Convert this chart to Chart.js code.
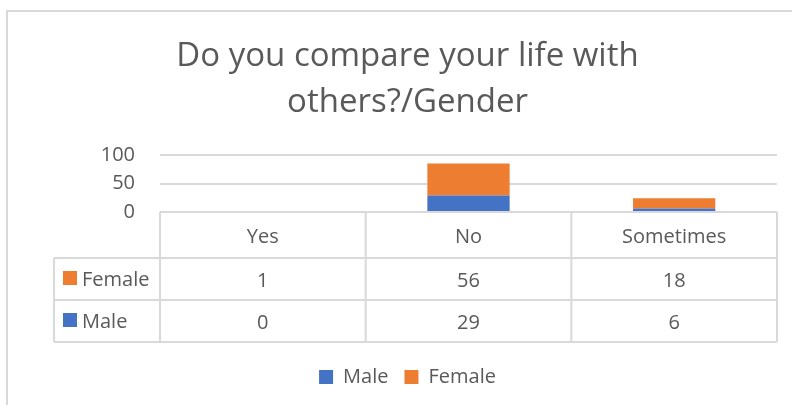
<!DOCTYPE html>
<html>
<head>
<meta charset="utf-8">
<script src="https://cdn.jsdelivr.net/npm/chart.js@4.4.1/dist/chart.umd.min.js"></script>
<style>
  html,body{margin:0;padding:0;background:#fff;overflow:hidden;}
  #wrap{position:relative;width:792px;height:405px;}
  #frame{position:absolute;left:6px;top:10px;width:820px;height:420px;border:2px solid #d9d9d9;box-sizing:border-box;}
  #chart{position:absolute;left:0;top:0;}
</style>
</head>
<body>
<div id="wrap">
  <div id="frame"></div>
  <canvas id="chart" width="792" height="405"></canvas>
</div>
<script>
// survey answers split by gender
const categories = ['Yes', 'No', 'Sometimes'];
const maleValues = [0, 29, 6];
const femaleValues = [1, 56, 18];
const yTicks = [0, 50, 100];
const titleLines = ['Do you compare your life with', 'others?/Gender'];

const TEXT = '#595959';
const LINE = '#d9d9d9';
const FONT = "'Open Sans', 'Noto Sans', sans-serif";

// data table under the plot, one column per category
const dataTable = {
  id: 'dataTable',
  afterDraw(chart){
    const ctx = chart.ctx;
    const area = chart.chartArea;
    const x = chart.scales.x;
    const colW = (area.right - area.left) / categories.length;
    const rowsTop = area.bottom;
    const rowH = [46, 42, 42];
    const y1 = rowsTop + rowH[0], y2 = y1 + rowH[1], y3 = y2 + rowH[2];
    const tableLeft = 54;

    ctx.save();
    ctx.strokeStyle = LINE;
    ctx.lineWidth = 2;
    ctx.beginPath();
    ctx.moveTo(area.left, rowsTop); ctx.lineTo(area.right, rowsTop);
    [y1, y2, y3].forEach(y => { ctx.moveTo(tableLeft, y); ctx.lineTo(area.right, y); });
    ctx.moveTo(tableLeft, y1); ctx.lineTo(tableLeft, y3);
    for(let i = 0; i <= categories.length; i++){
      const px = area.left + i * colW;
      ctx.moveTo(px, rowsTop); ctx.lineTo(px, y3);
    }
    ctx.stroke();

    ctx.fillStyle = TEXT;
    ctx.font = '20px ' + FONT;
    ctx.textAlign = 'center';
    ctx.textBaseline = 'alphabetic';
    categories.forEach((c, i) => {
      const cx = x.getPixelForValue(i);
      ctx.fillText(c, cx, rowsTop + 31);
      ctx.fillText(String(femaleValues[i]), cx, y1 + 29);
      ctx.fillText(String(maleValues[i]), cx, y2 + 29);
    });

    // row headers with series swatches
    const rows = [
      {label: 'Female', color: chart.data.datasets[1].backgroundColor, top: y1},
      {label: 'Male', color: chart.data.datasets[0].backgroundColor, top: y2}
    ];
    ctx.textAlign = 'left';
    rows.forEach(r => {
      ctx.fillStyle = r.color;
      ctx.fillRect(63, r.top + 13, 14, 14);
      ctx.fillStyle = TEXT;
      ctx.fillText(r.label, 82, r.top + 28);
    });
    ctx.restore();
  }
};

new Chart(document.getElementById('chart'), {
  type: 'bar',
  data: {
    labels: categories,
    datasets: [
      {label: 'Male', data: maleValues, backgroundColor: '#4472C4', borderWidth: 0},
      {label: 'Female', data: femaleValues, backgroundColor: '#ED7D31', borderWidth: 0}
    ]
  },
  options: {
    responsive: false,
    animation: false,
    devicePixelRatio: 1,
    categoryPercentage: 1,
    barPercentage: 0.4,
    layout: {padding: {left: 38, right: 15, top: 34, bottom: 8}},
    scales: {
      x: {
        stacked: true,
        grid: {display: false},
        border: {display: false},
        ticks: {display: false},
        afterFit(scale){ scale.height = 139; }
      },
      y: {
        stacked: true,
        min: yTicks[0],
        max: yTicks[yTicks.length - 1],
        afterBuildTicks(scale){ scale.ticks = yTicks.map(v => ({value: v})); },
        grid: {color: LINE, lineWidth: 2, drawTicks: false},
        border: {display: false},
        ticks: {color: TEXT, padding: 25, font: {family: FONT, size: 20}},
        afterFit(scale){ scale.width = 122; }
      }
    },
    plugins: {
      title: {
        display: true,
        text: titleLines,
        color: TEXT,
        font: {family: FONT, size: 33, weight: 'normal', lineHeight: 1.394},
        padding: {top: 0, bottom: 29}
      },
      legend: {
        position: 'bottom',
        labels: {
          color: TEXT,
          boxWidth: 14,
          boxHeight: 14,
          padding: 16,
          font: {family: FONT, size: 20}
        }
      },
      tooltip: {enabled: false}
    }
  },
  plugins: [dataTable]
});
</script>
</body>
</html>
